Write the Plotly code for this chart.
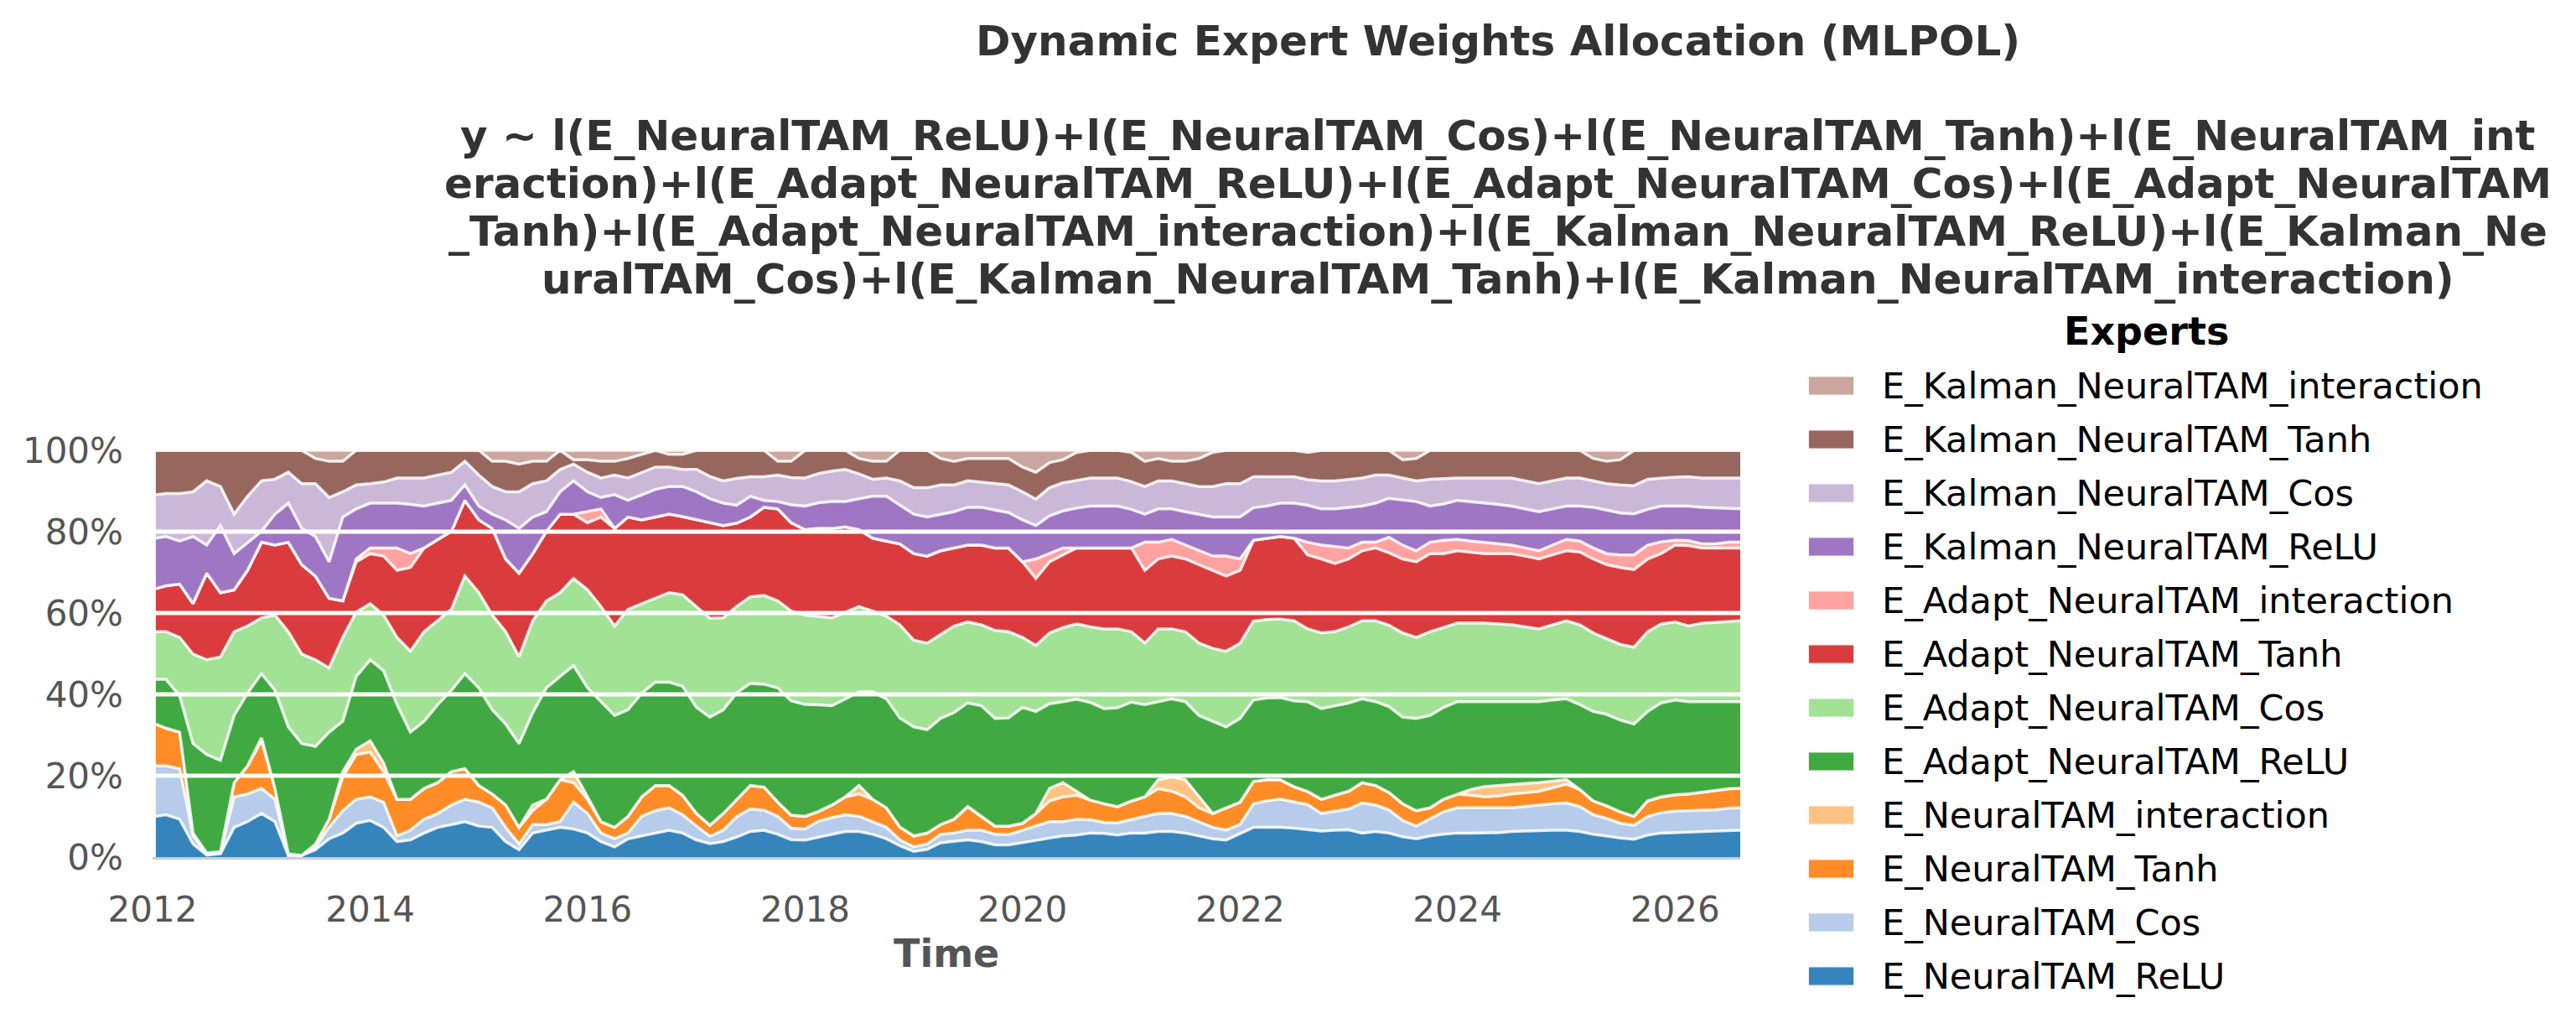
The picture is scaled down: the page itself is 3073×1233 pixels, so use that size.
import plotly.graph_objects as go

# ---------------- data (shares in %) ----------------
dates = [
    "2012-01-12", "2012-02-15", "2012-04-01", "2012-05-16", "2012-07-01", "2012-08-16", "2012-10-01", "2012-11-15",
    "2013-01-01", "2013-02-15", "2013-04-01", "2013-05-16", "2013-07-01", "2013-08-16", "2013-10-01", "2013-11-15",
    "2014-01-01", "2014-02-15", "2014-04-01", "2014-05-16", "2014-07-01", "2014-08-16", "2014-10-01", "2014-11-15",
    "2015-01-01", "2015-02-15", "2015-04-01", "2015-05-16", "2015-07-01", "2015-08-16", "2015-10-01", "2015-11-15",
    "2016-01-01", "2016-02-15", "2016-04-01", "2016-05-16", "2016-07-01", "2016-08-16", "2016-10-01", "2016-11-15",
    "2017-01-01", "2017-02-15", "2017-04-01", "2017-05-16", "2017-07-01", "2017-08-16", "2017-10-01", "2017-11-15",
    "2018-01-01", "2018-02-15", "2018-04-01", "2018-05-16", "2018-07-01", "2018-08-16", "2018-10-01", "2018-11-15",
    "2019-01-01", "2019-02-15", "2019-04-01", "2019-05-16", "2019-07-01", "2019-08-16", "2019-10-01", "2019-11-15",
    "2020-01-01", "2020-02-15", "2020-04-01", "2020-05-16", "2020-07-01", "2020-08-16", "2020-10-01", "2020-11-15",
    "2021-01-01", "2021-02-15", "2021-04-01", "2021-05-16", "2021-07-01", "2021-08-16", "2021-10-01", "2021-11-15",
    "2022-01-01", "2022-02-15", "2022-04-01", "2022-05-16", "2022-07-01", "2022-08-16", "2022-10-01", "2022-11-15",
    "2023-01-01", "2023-02-15", "2023-04-01", "2023-05-16", "2023-07-01", "2023-08-16", "2023-10-01", "2023-11-15",
    "2024-01-01", "2024-02-15", "2024-04-01", "2024-05-16", "2024-07-01", "2024-08-16", "2024-10-01", "2024-11-15",
    "2025-01-01", "2025-02-15", "2025-04-01", "2025-05-16", "2025-07-01", "2025-08-16", "2025-10-01", "2025-11-15",
    "2026-01-01", "2026-02-15", "2026-04-01", "2026-05-16", "2026-07-01", "2026-08-08",
]

E_NeuralTAM_ReLU = [
    10.0, 10.4, 9.3, 3.2, 0.5, 0.8, 7.3, 8.7,
    10.7, 8.7, 0.4, 0.4, 1.8, 4.5, 5.9, 8.3,
    9.0, 7.3, 3.8, 4.2, 5.9, 7.3, 8.0, 8.7,
    7.6, 7.3, 3.8, 1.8, 5.9, 6.6, 7.3, 6.9,
    5.9, 3.8, 2.5, 4.5, 5.2, 5.9, 6.6, 5.9,
    4.2, 3.3, 3.8, 4.9, 6.3, 6.6, 5.6, 4.3,
    4.2, 4.9, 5.6, 6.3, 6.3, 5.6, 4.5, 2.8,
    1.4, 1.9, 3.5, 3.8, 4.2, 3.8, 3.0, 3.0,
    3.5, 4.1, 4.7, 5.2, 5.4, 5.9, 5.8, 5.4,
    5.9, 5.9, 6.3, 6.3, 5.9, 5.2, 4.5, 4.2,
    5.8, 7.3, 7.3, 7.3, 7.1, 6.7, 6.4, 6.6,
    6.7, 5.9, 6.3, 5.9, 5.0, 4.5, 5.2, 5.6,
    5.9, 5.9, 5.9, 6.0, 6.3, 6.4, 6.6, 6.6,
    6.6, 6.3, 5.6, 5.1, 4.7, 4.4, 5.4, 5.9,
    6.0, 6.2, 6.3, 6.4, 6.5, 6.6,
]
E_NeuralTAM_Cos = [
    12.4, 12.0, 12.4, 2.0, 0.3, 0.3, 7.5, 6.8,
    6.2, 5.5, 0.0, 0.0, 0.7, 2.8, 5.5, 5.9,
    5.8, 6.2, 1.4, 2.4, 3.4, 3.4, 4.8, 5.5,
    5.9, 4.8, 3.5, 1.4, 2.1, 1.4, 1.4, 6.6,
    4.8, 2.1, 2.0, 1.4, 4.8, 5.5, 5.5, 4.5,
    3.4, 1.8, 2.8, 5.0, 5.5, 4.9, 4.4, 2.8,
    2.7, 3.9, 4.1, 4.1, 3.7, 3.1, 2.8, 1.4,
    1.1, 1.3, 2.1, 2.1, 2.4, 2.8, 2.6, 2.5,
    3.1, 3.7, 4.0, 3.5, 3.9, 3.3, 2.7, 3.0,
    3.4, 4.1, 4.4, 4.4, 4.1, 3.5, 2.8, 2.4,
    2.2, 5.8, 6.5, 6.9, 6.5, 6.2, 4.3, 4.7,
    5.1, 7.4, 6.5, 5.7, 4.0, 3.1, 4.1, 5.5,
    6.2, 6.2, 6.2, 6.1, 5.8, 6.0, 6.2, 6.5,
    6.7, 6.1, 4.8, 4.4, 3.6, 3.4, 4.6, 5.0,
    5.3, 5.2, 5.1, 5.2, 5.5, 5.5,
]
E_NeuralTAM_Tanh = [
    10.3, 9.3, 9.0, 0.7, 0.2, 0.2, 3.5, 6.9,
    11.7, 2.7, 0.4, 0.0, 0.7, 2.0, 8.3, 11.0,
    11.0, 7.5, 9.0, 7.6, 7.6, 7.6, 8.2, 7.5,
    4.1, 3.4, 5.5, 4.1, 3.4, 6.2, 10.3, 4.8,
    3.5, 2.8, 2.8, 4.1, 4.8, 6.2, 5.5, 4.8,
    3.1, 2.7, 4.1, 4.3, 5.8, 5.7, 3.5, 3.2,
    3.1, 2.4, 3.1, 4.4, 5.5, 5.5, 4.8, 3.2,
    2.7, 2.7, 2.4, 3.4, 5.8, 3.4, 2.0, 2.1,
    1.7, 2.9, 5.1, 6.1, 5.9, 4.8, 4.6, 4.0,
    4.5, 4.8, 6.1, 5.5, 4.8, 3.4, 3.4, 5.5,
    5.5, 5.5, 5.2, 4.8, 3.7, 3.2, 3.5, 3.9,
    4.4, 5.0, 4.8, 4.3, 4.1, 3.8, 2.8, 3.1,
    3.4, 3.1, 2.7, 2.9, 3.4, 3.4, 3.4, 3.9,
    4.6, 4.2, 3.4, 3.1, 2.8, 2.2, 3.8, 3.9,
    4.0, 4.1, 4.5, 4.8, 4.8, 4.8,
]
E_NeuralTAM_interaction = [
    0.0, 0.0, 0.0, 0.0, 0.0, 0.0, 0.0, 0.0,
    0.7, 0.0, 0.0, 0.0, 0.0, 0.0, 1.3, 1.3,
    2.8, 2.1, 0.0, 0.0, 0.0, 0.0, 0.0, 0.0,
    0.0, 0.0, 0.0, 0.0, 1.4, 0.0, 0.0, 2.7,
    0.6, 0.0, 0.0, 0.0, 0.0, 0.0, 0.0, 0.0,
    0.0, 0.0, 0.0, 0.0, 0.0, 0.0, 0.0, 0.0,
    0.0, 0.0, 0.0, 0.0, 2.1, 0.0, 0.0, 0.0,
    0.0, 0.0, 0.0, 0.0, 0.0, 0.0, 0.0, 0.0,
    0.0, 0.0, 3.1, 3.5, 1.0, 0.0, 0.0, 0.0,
    0.0, 0.0, 2.2, 3.5, 4.2, 2.7, 0.0, 0.0,
    0.0, 0.0, 0.0, 0.0, 0.0, 0.0, 0.0, 0.0,
    0.0, 0.0, 0.0, 0.0, 0.0, 0.0, 0.0, 0.0,
    0.0, 1.4, 2.5, 2.6, 2.4, 2.3, 2.1, 1.6,
    1.1, 0.0, 0.0, 0.0, 0.0, 0.0, 0.0, 0.0,
    0.0, 0.0, 0.0, 0.0, 0.0, 0.0,
]
E_Adapt_NeuralTAM_ReLU = [
    11.0, 12.0, 8.9, 22.0, 24.2, 22.5, 16.5, 17.9,
    15.8, 24.1, 31.2, 27.5, 24.0, 21.4, 12.4, 17.9,
    19.9, 22.7, 23.3, 16.5, 16.5, 19.2, 20.0, 23.4,
    24.0, 20.7, 19.9, 20.6, 22.7, 27.4, 25.4, 26.1,
    26.8, 29.5, 27.5, 26.2, 25.5, 25.4, 25.4, 26.8,
    26.1, 26.6, 25.5, 26.2, 25.1, 25.3, 28.1, 28.1,
    27.5, 26.2, 24.4, 24.1, 23.0, 26.4, 26.8, 26.8,
    26.8, 25.4, 26.1, 26.2, 25.5, 27.2, 26.5, 26.6,
    28.5, 25.1, 20.8, 19.9, 22.6, 24.0, 23.4, 24.3,
    24.3, 22.7, 19.2, 19.2, 19.2, 20.0, 22.7, 19.9,
    20.6, 20.0, 20.1, 20.2, 21.1, 22.1, 22.3, 22.0,
    21.7, 20.6, 20.6, 21.1, 21.3, 22.7, 22.7, 22.6,
    22.7, 21.6, 20.9, 20.6, 20.3, 20.1, 19.9, 20.0,
    19.9, 20.9, 22.0, 22.5, 22.6, 22.7, 22.0, 23.1,
    23.3, 22.7, 22.3, 21.8, 21.4, 21.3,
]
E_Adapt_NeuralTAM_Cos = [
    11.7, 11.7, 14.4, 22.0, 23.3, 25.4, 20.6, 16.5,
    13.7, 18.5, 23.4, 22.0, 21.3, 15.8, 20.6, 15.8,
    13.8, 13.7, 16.5, 19.9, 22.0, 20.6, 19.9, 24.0,
    23.4, 23.3, 22.7, 21.3, 22.6, 21.4, 20.6, 21.4,
    24.1, 23.4, 22.0, 24.7, 22.0, 20.6, 22.0, 22.5,
    24.8, 24.3, 22.6, 21.2, 21.3, 21.8, 21.4, 22.1,
    22.0, 21.8, 21.6, 21.3, 21.0, 19.9, 20.3, 22.9,
    21.3, 21.3, 20.6, 21.3, 19.9, 19.9, 21.6, 21.2,
    17.2, 16.2, 17.4, 18.2, 18.5, 18.6, 19.6, 19.4,
    17.3, 15.1, 17.9, 17.2, 17.2, 17.8, 17.9, 18.6,
    18.5, 19.4, 19.3, 19.3, 19.7, 17.9, 18.6, 18.2,
    18.7, 19.2, 19.9, 20.0, 20.7, 19.9, 20.6, 19.6,
    19.3, 19.3, 19.3, 19.1, 18.9, 18.4, 17.9, 18.5,
    19.2, 19.6, 19.3, 18.6, 18.6, 18.9, 19.6, 19.4,
    19.2, 18.6, 19.3, 19.5, 19.8, 19.9,
]
E_Adapt_NeuralTAM_Tanh = [
    10.6, 11.3, 13.1, 12.4, 21.3, 15.8, 10.3, 13.7,
    18.6, 17.2, 22.0, 22.0, 20.6, 17.1, 9.0, 12.4,
    12.3, 14.5, 16.5, 20.6, 20.6, 20.0, 19.2, 18.6,
    17.9, 21.3, 17.9, 20.6, 16.5, 17.1, 19.3, 15.8,
    16.5, 22.0, 24.0, 22.7, 20.6, 20.0, 19.3, 19.2,
    21.3, 23.6, 22.7, 20.5, 19.6, 21.7, 22.6, 21.7,
    21.0, 21.6, 22.0, 21.0, 18.9, 17.9, 18.5, 19.9,
    21.3, 21.4, 20.6, 19.2, 18.9, 19.6, 20.3, 20.6,
    18.6, 16.5, 17.5, 17.9, 18.7, 19.4, 19.9, 19.9,
    20.6, 17.9, 17.2, 17.9, 17.9, 19.3, 19.2, 18.5,
    17.9, 19.9, 20.0, 20.3, 20.3, 18.2, 18.2, 16.8,
    16.7, 17.2, 17.9, 17.8, 18.2, 18.6, 19.2, 18.2,
    17.8, 17.5, 17.1, 17.3, 17.5, 17.4, 17.2, 17.2,
    17.2, 17.9, 18.2, 18.2, 18.9, 19.1, 17.9, 17.3,
    18.9, 19.8, 18.5, 18.3, 18.0, 17.9,
]
E_Adapt_NeuralTAM_interaction = [
    0.0, 0.0, 0.0, 0.0, 0.0, 0.0, 0.0, 0.0,
    0.0, 0.0, 0.0, 0.0, 0.0, 0.0, 0.0, 0.7,
    1.4, 2.0, 5.5, 3.4, 0.0, 0.0, 0.0, 0.0,
    0.0, 0.0, 0.0, 0.0, 0.0, 0.0, 0.0, 0.0,
    2.7, 2.0, 0.0, 0.0, 0.0, 0.0, 0.0, 0.0,
    0.0, 0.0, 0.0, 0.0, 0.0, 0.0, 0.0, 0.0,
    0.0, 0.0, 0.0, 0.0, 0.0, 0.0, 0.0, 0.0,
    0.0, 0.0, 0.0, 0.0, 0.0, 0.0, 0.0, 0.0,
    0.0, 4.8, 2.0, 1.7, 0.0, 0.0, 0.0, 0.0,
    0.0, 6.9, 4.1, 4.1, 3.4, 3.4, 3.5, 4.9,
    2.8, 0.0, 0.0, 0.0, 0.0, 3.1, 3.4, 4.2,
    2.7, 2.1, 1.4, 3.8, 3.4, 2.7, 2.8, 3.3,
    2.8, 2.7, 2.8, 2.4, 2.1, 2.0, 2.0, 2.4,
    2.8, 2.7, 2.7, 2.7, 3.1, 3.6, 3.4, 2.9,
    1.2, 1.2, 1.0, 1.0, 1.4, 1.4,
]
E_Kalman_NeuralTAM_ReLU = [
    12.4, 12.1, 10.6, 16.5, 6.9, 16.5, 8.9, 6.9,
    2.7, 7.6, 9.6, 8.9, 9.7, 9.0, 20.6, 12.3,
    11.0, 11.0, 11.0, 12.1, 10.3, 8.9, 7.6, 3.8,
    3.4, 3.5, 9.6, 11.0, 9.0, 4.8, 5.5, 8.2,
    4.9, 2.8, 8.3, 4.1, 6.2, 6.8, 6.8, 7.4,
    6.9, 5.8, 5.5, 4.4, 5.1, 1.7, 1.8, 4.4,
    5.8, 6.3, 6.6, 6.2, 7.6, 10.3, 11.0, 9.5,
    9.7, 9.6, 9.0, 8.9, 9.3, 9.3, 9.3, 8.7,
    10.3, 8.2, 9.3, 9.1, 9.8, 10.3, 10.3, 10.3,
    9.5, 6.9, 8.2, 7.5, 8.2, 9.0, 9.6, 9.6,
    10.3, 8.0, 7.9, 8.2, 8.6, 9.1, 8.9, 9.2,
    10.0, 8.9, 9.6, 9.6, 11.1, 12.1, 8.9, 8.9,
    9.6, 9.7, 9.6, 9.7, 9.6, 9.6, 9.6, 8.9,
    8.2, 8.6, 10.0, 10.7, 10.3, 10.1, 8.8, 8.8,
    8.4, 8.5, 9.0, 8.9, 8.4, 8.2,
]
E_Kalman_NeuralTAM_Cos = [
    10.7, 10.6, 11.7, 11.0, 15.8, 9.6, 9.7, 11.3,
    12.4, 8.6, 7.6, 11.0, 13.0, 15.8, 6.2, 5.9,
    4.8, 5.2, 6.2, 6.5, 6.9, 6.9, 6.9, 5.8,
    7.6, 6.8, 6.9, 9.0, 8.2, 7.6, 5.5, 4.1,
    4.8, 4.8, 4.8, 5.5, 5.5, 5.5, 4.8, 4.2,
    5.5, 5.5, 5.5, 6.6, 4.8, 5.8, 6.5, 6.7,
    6.9, 7.2, 7.5, 7.9, 6.1, 4.2, 4.5, 6.0,
    6.5, 7.2, 7.2, 6.6, 6.5, 6.2, 6.5, 6.8,
    6.9, 6.5, 6.9, 6.9, 6.8, 6.9, 6.9, 6.9,
    6.8, 6.8, 6.9, 6.9, 6.9, 6.8, 7.5, 8.2,
    8.2, 7.6, 7.2, 6.5, 6.5, 6.3, 6.9, 6.9,
    6.9, 6.9, 6.9, 5.7, 5.4, 5.1, 6.6, 6.3,
    5.5, 5.8, 6.2, 6.5, 6.9, 6.9, 6.9, 6.9,
    6.9, 6.9, 6.5, 6.5, 6.9, 6.9, 7.4, 6.9,
    7.1, 7.2, 7.2, 7.3, 7.4, 7.6,
]
E_Kalman_NeuralTAM_Tanh = [
    10.9, 10.6, 10.6, 10.2, 7.5, 8.9, 15.7, 11.3,
    7.5, 7.1, 5.4, 8.2, 6.2, 8.9, 7.5, 8.5,
    8.2, 7.8, 6.8, 6.8, 6.8, 6.1, 5.4, 2.7,
    6.1, 6.2, 7.5, 6.8, 5.5, 4.8, 4.7, 1.1,
    3.1, 4.1, 3.4, 4.8, 4.4, 4.1, 3.1, 3.7,
    4.7, 6.4, 7.5, 6.9, 6.5, 6.5, 3.4, 4.0,
    6.8, 5.7, 5.1, 4.7, 3.8, 4.4, 4.1, 7.5,
    9.2, 9.2, 6.5, 5.8, 5.5, 5.8, 6.2, 6.5,
    6.1, 6.6, 6.2, 5.7, 6.9, 6.8, 6.8, 6.8,
    7.2, 6.2, 5.5, 4.8, 5.5, 6.9, 8.4, 8.2,
    8.2, 6.5, 6.5, 6.5, 6.5, 6.7, 7.5, 7.5,
    7.1, 6.8, 6.1, 6.1, 4.5, 5.5, 7.1, 6.9,
    6.8, 6.8, 6.8, 6.8, 6.8, 7.5, 8.2, 7.5,
    6.8, 6.8, 5.5, 5.5, 6.2, 8.7, 7.1, 6.8,
    6.6, 6.5, 6.8, 6.8, 6.8, 6.8,
]
E_Kalman_NeuralTAM_interaction = [
    0.0, 0.0, 0.0, 0.0, 0.0, 0.0, 0.0, 0.0,
    0.0, 0.0, 0.0, 0.0, 2.0, 2.7, 2.7, 0.0,
    0.0, 0.0, 0.0, 0.0, 0.0, 0.0, 0.0, 0.0,
    0.0, 2.7, 2.7, 3.4, 2.7, 2.7, 0.0, 2.3,
    2.3, 2.7, 2.7, 2.0, 1.0, 0.0, 1.0, 1.0,
    0.0, 0.0, 0.0, 0.0, 0.0, 0.0, 2.7, 2.7,
    0.0, 0.0, 0.0, 0.0, 2.0, 2.7, 2.7, 0.0,
    0.0, 0.0, 2.0, 2.7, 2.0, 2.0, 2.0, 2.0,
    4.1, 5.4, 3.0, 2.3, 0.5, 0.0, 0.0, 0.0,
    0.5, 2.7, 2.0, 2.7, 2.7, 2.0, 0.5, 0.0,
    0.0, 0.0, 0.0, 0.0, 0.0, 0.5, 0.0, 0.0,
    0.0, 0.0, 0.0, 0.0, 2.3, 2.0, 0.0, 0.0,
    0.0, 0.0, 0.0, 0.0, 0.0, 0.0, 0.0, 0.0,
    0.0, 0.0, 2.0, 2.7, 2.3, 0.0, 0.0, 0.0,
    0.0, 0.0, 0.0, 0.0, 0.0, 0.0,
]

expert_names = [
    "E_NeuralTAM_ReLU", "E_NeuralTAM_Cos", "E_NeuralTAM_Tanh", "E_NeuralTAM_interaction",
    "E_Adapt_NeuralTAM_ReLU", "E_Adapt_NeuralTAM_Cos", "E_Adapt_NeuralTAM_Tanh",
    "E_Adapt_NeuralTAM_interaction", "E_Kalman_NeuralTAM_ReLU", "E_Kalman_NeuralTAM_Cos",
    "E_Kalman_NeuralTAM_Tanh", "E_Kalman_NeuralTAM_interaction",
]
expert_values = [
    E_NeuralTAM_ReLU, E_NeuralTAM_Cos, E_NeuralTAM_Tanh, E_NeuralTAM_interaction,
    E_Adapt_NeuralTAM_ReLU, E_Adapt_NeuralTAM_Cos, E_Adapt_NeuralTAM_Tanh,
    E_Adapt_NeuralTAM_interaction, E_Kalman_NeuralTAM_ReLU, E_Kalman_NeuralTAM_Cos,
    E_Kalman_NeuralTAM_Tanh, E_Kalman_NeuralTAM_interaction,
]
year_ticks = [2012, 2014, 2016, 2018, 2020, 2022, 2024, 2026]
pct_ticks = [0, 20, 40, 60, 80, 100]

title_lines = [
    "Dynamic Expert Weights Allocation (MLPOL)",
    "y ~ l(E_NeuralTAM_ReLU)+l(E_NeuralTAM_Cos)+l(E_NeuralTAM_Tanh)+l(E_NeuralTAM_int",
    "eraction)+l(E_Adapt_NeuralTAM_ReLU)+l(E_Adapt_NeuralTAM_Cos)+l(E_Adapt_NeuralTAM",
    "_Tanh)+l(E_Adapt_NeuralTAM_interaction)+l(E_Kalman_NeuralTAM_ReLU)+l(E_Kalman_Ne",
    "uralTAM_Cos)+l(E_Kalman_NeuralTAM_Tanh)+l(E_Kalman_NeuralTAM_interaction)",
]

# ---------------- styling ----------------
palette = ["#1f77b4", "#aec7e8", "#ff7f0e", "#ffbb78", "#2ca02c", "#98df8a",
           "#d62728", "#ff9896", "#9467bd", "#c5b0d5", "#8c564b", "#c49c94"]


def rgba(hex_color, a):
    h = hex_color.lstrip("#")
    return "rgba(%d,%d,%d,%.2f)" % (int(h[0:2], 16), int(h[2:4], 16), int(h[4:6], 16), a)


W, H = 3073, 1233
PL, PR, PT, PB = 182, 2076, 537, 1022   # plot area in pixels
PW, PH = PR - PL, PB - PT
FONT = "DejaVu Sans"


def px_x(px):
    return (px - PL) / PW


def px_y(py):
    return (PB - py) / PH


fig = go.Figure()
for i, (name, vals) in enumerate(zip(expert_names, expert_values)):
    fig.add_trace(go.Scatter(
        x=dates, y=vals, name=name, mode="lines",
        stackgroup="one", groupnorm="percent" if i == 0 else None,
        line=dict(color="rgba(255,255,255,0.85)", width=3.5),
        fillcolor=rgba(palette[i], 0.9),
        showlegend=False, hoverinfo="x+y+name",
    ))

shapes = []
# white horizontal grid lines drawn over the areas
for v in pct_ticks[1:-1]:
    shapes.append(dict(type="line", xref="paper", yref="y", x0=0, x1=1, y0=v, y1=v,
                       line=dict(color="white", width=5), layer="above"))

annotations = []
title_y = [49, 162, 219, 276, 333]
for line, py in zip(title_lines, title_y):
    annotations.append(dict(text=line, xref="paper", yref="paper", x=px_x(1787), y=px_y(py),
                            xanchor="center", yanchor="middle", showarrow=False,
                            font=dict(family=FONT, size=50, color="#333333", weight="bold")))
annotations.append(dict(text="Time", xref="paper", yref="paper", x=px_x(1129), y=px_y(1137),
                        xanchor="center", yanchor="middle", showarrow=False,
                        font=dict(family=FONT, size=46, color="#555555", weight="bold")))
# legend drawn by hand (title, colour swatches, labels)
annotations.append(dict(text="Experts", xref="paper", yref="paper", x=px_x(2560), y=px_y(395),
                        xanchor="center", yanchor="middle", showarrow=False,
                        font=dict(family=FONT, size=46, color="black", weight="bold")))
for k in range(12):
    idx = 11 - k
    cy = 460 + 64 * k
    shapes.append(dict(type="rect", xref="paper", yref="paper",
                       x0=px_x(2157), x1=px_x(2212), y0=px_y(cy + 11.5), y1=px_y(cy - 11.5),
                       fillcolor=rgba(palette[idx], 0.9),
                       line=dict(color="rgba(255,250,250,0.9)", width=2), layer="above"))
    annotations.append(dict(text=expert_names[idx], xref="paper", yref="paper",
                            x=px_x(2243), y=px_y(cy), xanchor="left", yanchor="middle",
                            showarrow=False, font=dict(family=FONT, size=43, color="black")))

fig.update_layout(
    width=W, height=H, autosize=False,
    margin=dict(l=PL, r=W - PR, t=PT, b=H - PB, pad=0),
    paper_bgcolor="white", plot_bgcolor="white",
    showlegend=False,
    shapes=shapes, annotations=annotations,
    font=dict(family=FONT, color="#555555"),
    xaxis=dict(
        type="date", range=["2012-01-01", "2026-08-08"],
        tickvals=["%d-01-01" % y for y in year_ticks],
        ticktext=[str(y) for y in year_ticks],
        showgrid=False, zeroline=False, ticks="",
        showline=True, linecolor="#cccccc", linewidth=3,
        tickfont=dict(family=FONT, size=42, color="#555555"),
        ticklabelstandoff=24,
    ),
    yaxis=dict(
        range=[0, 100], tickvals=pct_ticks, ticktext=["%d%%" % v for v in pct_ticks],
        showgrid=False, zeroline=False, showline=False, ticks="",
        tickfont=dict(family=FONT, size=42, color="#555555"),
        ticklabelstandoff=34,
    ),
)

fig.write_html("out.html")
